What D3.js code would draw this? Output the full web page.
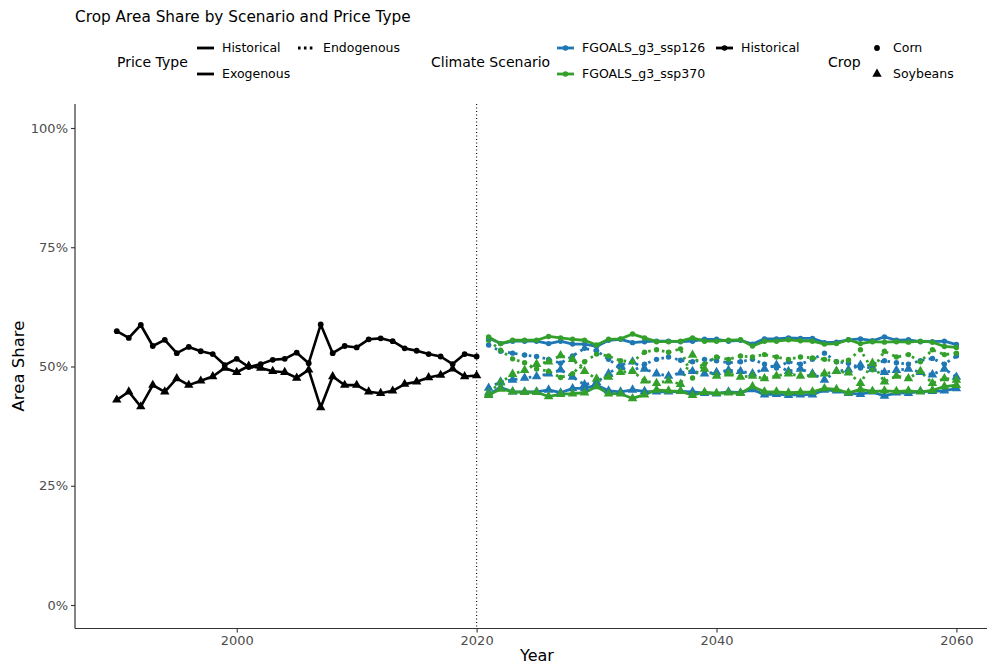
<!DOCTYPE html>
<html>
<head>
<meta charset="utf-8">
<script src="https://cdn.jsdelivr.net/npm/d3@7"></script>
<style>
  body { margin: 0; background: #fff; }
  svg { display: block; font-family: "DejaVu Sans", sans-serif; }
</style>
</head>
<body>
<svg id="chart" width="987" height="664"></svg>
<script>
// historical shares, 1990-2020
const histYears = d3.range(1990, 2021);
const histCorn = [0.574, 0.560, 0.587, 0.543, 0.556, 0.528, 0.541, 0.532, 0.526, 0.503, 0.516,
  0.499, 0.505, 0.514, 0.516, 0.529, 0.507, 0.588, 0.528, 0.543, 0.540,
  0.557, 0.559, 0.553, 0.538, 0.533, 0.526, 0.521, 0.505, 0.526, 0.521];
const histSoy = [0.430, 0.447, 0.416, 0.461, 0.447, 0.475, 0.461, 0.470, 0.479, 0.497, 0.488,
  0.501, 0.497, 0.490, 0.488, 0.476, 0.493, 0.414, 0.479, 0.461, 0.461,
  0.447, 0.444, 0.449, 0.463, 0.468, 0.477, 0.482, 0.495, 0.479, 0.481];

// projections, 2021-2060
const futYears = d3.range(2021, 2061);
const ssp126ExoCorn = [0.560, 0.548, 0.553, 0.553, 0.553, 0.548, 0.553, 0.547, 0.547, 0.542,
  0.555, 0.557, 0.550, 0.552, 0.553, 0.553, 0.552, 0.553, 0.557, 0.557,
  0.553, 0.555, 0.547, 0.558, 0.558, 0.560, 0.559, 0.559, 0.550, 0.551,
  0.556, 0.558, 0.554, 0.562, 0.555, 0.556, 0.552, 0.552, 0.553, 0.546];
const ssp126ExoSoy = [0.441, 0.456, 0.447, 0.447, 0.447, 0.451, 0.445, 0.454, 0.454, 0.461,
  0.449, 0.447, 0.451, 0.448, 0.447, 0.447, 0.448, 0.447, 0.444, 0.443,
  0.447, 0.445, 0.452, 0.441, 0.442, 0.440, 0.441, 0.441, 0.451, 0.449,
  0.444, 0.442, 0.447, 0.438, 0.445, 0.444, 0.448, 0.448, 0.449, 0.454];
const ssp370ExoCorn = [0.562, 0.548, 0.555, 0.555, 0.555, 0.563, 0.560, 0.557, 0.555, 0.545,
  0.557, 0.558, 0.568, 0.560, 0.552, 0.552, 0.553, 0.560, 0.553, 0.553,
  0.555, 0.556, 0.543, 0.553, 0.553, 0.556, 0.554, 0.553, 0.547, 0.548,
  0.556, 0.548, 0.552, 0.551, 0.552, 0.551, 0.553, 0.551, 0.542, 0.540];
const ssp370ExoSoy = [0.440, 0.453, 0.447, 0.446, 0.446, 0.437, 0.442, 0.443, 0.445, 0.458,
  0.443, 0.443, 0.433, 0.441, 0.451, 0.449, 0.448, 0.440, 0.446, 0.444,
  0.445, 0.444, 0.458, 0.447, 0.447, 0.445, 0.446, 0.447, 0.454, 0.452,
  0.445, 0.452, 0.448, 0.449, 0.448, 0.449, 0.447, 0.450, 0.458, 0.461];
const ssp126EndoCorn = [0.545, 0.532, 0.528, 0.524, 0.521, 0.515, 0.507, 0.522, 0.538, 0.533,
  0.515, 0.497, 0.490, 0.505, 0.515, 0.520, 0.513, 0.510, 0.515, 0.512,
  0.508, 0.510, 0.515, 0.505, 0.497, 0.510, 0.505, 0.515, 0.528, 0.510,
  0.507, 0.497, 0.505, 0.512, 0.508, 0.505, 0.512, 0.517, 0.505, 0.522];
const ssp126EndoSoy = [0.455, 0.468, 0.472, 0.476, 0.479, 0.485, 0.493, 0.478, 0.462, 0.467,
  0.485, 0.503, 0.510, 0.495, 0.485, 0.480, 0.487, 0.490, 0.485, 0.488,
  0.492, 0.490, 0.485, 0.495, 0.503, 0.490, 0.495, 0.485, 0.472, 0.490,
  0.493, 0.503, 0.495, 0.488, 0.492, 0.495, 0.488, 0.483, 0.495, 0.478];
const ssp370EndoCorn = [0.555, 0.534, 0.516, 0.508, 0.495, 0.490, 0.477, 0.485, 0.510, 0.526,
  0.522, 0.512, 0.510, 0.530, 0.535, 0.530, 0.537, 0.476, 0.505, 0.520,
  0.515, 0.522, 0.520, 0.525, 0.520, 0.515, 0.520, 0.518, 0.515, 0.510,
  0.513, 0.535, 0.493, 0.532, 0.520, 0.525, 0.510, 0.535, 0.525, 0.528];
const ssp370EndoSoy = [0.445, 0.466, 0.484, 0.492, 0.505, 0.510, 0.523, 0.515, 0.490, 0.474,
  0.478, 0.488, 0.490, 0.470, 0.465, 0.470, 0.463, 0.524, 0.495, 0.480,
  0.485, 0.478, 0.480, 0.475, 0.480, 0.485, 0.480, 0.482, 0.485, 0.490,
  0.487, 0.465, 0.507, 0.468, 0.480, 0.475, 0.490, 0.465, 0.475, 0.472];

const yTicks = [0, 0.25, 0.5, 0.75, 1];
const xTicks = [2000, 2020, 2040, 2060];
const scenarioColors = { 'FGOALS_g3_ssp126': '#1f78b4', 'FGOALS_g3_ssp370': '#33a02c', 'Historical': '#000000' };

// series list built from the arrays above
const series = [
  { scen: 'Historical', price: 'Historical', crop: 'Corn', years: histYears, vals: histCorn },
  { scen: 'Historical', price: 'Historical', crop: 'Soybeans', years: histYears, vals: histSoy },
  { scen: 'FGOALS_g3_ssp126', price: 'Endogenous', crop: 'Corn', years: futYears, vals: ssp126EndoCorn },
  { scen: 'FGOALS_g3_ssp126', price: 'Endogenous', crop: 'Soybeans', years: futYears, vals: ssp126EndoSoy },
  { scen: 'FGOALS_g3_ssp370', price: 'Endogenous', crop: 'Corn', years: futYears, vals: ssp370EndoCorn },
  { scen: 'FGOALS_g3_ssp370', price: 'Endogenous', crop: 'Soybeans', years: futYears, vals: ssp370EndoSoy },
  { scen: 'FGOALS_g3_ssp126', price: 'Exogenous', crop: 'Corn', years: futYears, vals: ssp126ExoCorn },
  { scen: 'FGOALS_g3_ssp126', price: 'Exogenous', crop: 'Soybeans', years: futYears, vals: ssp126ExoSoy },
  { scen: 'FGOALS_g3_ssp370', price: 'Exogenous', crop: 'Corn', years: futYears, vals: ssp370ExoCorn },
  { scen: 'FGOALS_g3_ssp370', price: 'Exogenous', crop: 'Soybeans', years: futYears, vals: ssp370ExoSoy },
];
series.forEach(s => { s.points = s.years.map((yr, i) => ({ year: yr, v: s.vals[i], s })); });

const svg = d3.select('#chart');
const x = d3.scaleLinear().domain([1990, 2060]).range([116.8, 956.4]);
const y = d3.scaleLinear().domain([0, 1]).range([605, 128]);
const panel = { left: 75, right: 999, top: 104, bottom: 628.5 };

// reference line at 2020
svg.append('line')
  .attr('x1', x(2020)).attr('x2', x(2020))
  .attr('y1', panel.top).attr('y2', panel.bottom)
  .attr('stroke', '#000').attr('stroke-width', 1.1)
  .attr('stroke-dasharray', '1,2.5');

const line = d3.line().x(d => x(d.year)).y(d => y(d.v));

svg.append('g').selectAll('path')
  .data(series)
  .join('path')
  .attr('d', s => line(s.points))
  .attr('fill', 'none')
  .attr('stroke', s => scenarioColors[s.scen])
  .attr('stroke-width', s => s.scen === 'Historical' ? 2.6 : 2.8)
  .attr('stroke-linejoin', 'round')
  .attr('stroke-dasharray', s => s.price === 'Endogenous' ? '2.6,4.4' : null);

const tri = d3.symbol().type(d3.symbolTriangle);
const pts = svg.append('g');
series.forEach(s => {
  const col = scenarioColors[s.scen];
  const big = s.scen === 'Historical';
  if (s.crop === 'Corn') {
    pts.selectAll(null).data(s.points).join('circle')
      .attr('cx', d => x(d.year)).attr('cy', d => y(d.v))
      .attr('r', big ? 2.9 : 2.7).attr('fill', col);
  } else {
    pts.selectAll(null).data(s.points).join('path')
      .attr('d', tri.size(big ? 38 : 40)())
      .attr('transform', d => `translate(${x(d.year)},${y(d.v)})`)
      .attr('fill', col);
  }
});

// axes
const axisCol = '#333';
const gx = svg.append('g').attr('transform', `translate(0,${panel.bottom})`)
  .call(d3.axisBottom(x).tickValues(xTicks).tickFormat(d3.format('d')).tickSize(4).tickPadding(3).tickSizeOuter(0));
const gy = svg.append('g').attr('transform', `translate(${panel.left},0)`)
  .call(d3.axisLeft(y).tickValues(yTicks).tickFormat(d3.format('.0%')).tickSize(4).tickPadding(3).tickSizeOuter(0));
[gx, gy].forEach(g => {
  g.attr('font-size', null).attr('font-family', null);
  g.select('.domain').remove();
  g.selectAll('.tick line').attr('stroke', axisCol).attr('stroke-width', 1.1);
  g.selectAll('.tick text').attr('fill', '#4d4d4d')
    .style('font-size', '13px').style('font-family', '"DejaVu Sans", sans-serif');
});
svg.append('line').attr('x1', panel.left).attr('x2', panel.right)
  .attr('y1', panel.bottom).attr('y2', panel.bottom)
  .attr('stroke', axisCol).attr('stroke-width', 1.2);
svg.append('line').attr('x1', panel.left).attr('x2', panel.left)
  .attr('y1', panel.top).attr('y2', panel.bottom)
  .attr('stroke', axisCol).attr('stroke-width', 1.2);

svg.append('text').attr('x', 537).attr('y', 661).attr('text-anchor', 'middle')
  .attr('font-size', 16).text('Year');
svg.append('text').attr('transform', 'translate(24,366) rotate(-90)')
  .attr('text-anchor', 'middle').attr('font-size', 16.5).text('Area Share');

// title
svg.append('text').attr('x', 75).attr('y', 22).attr('font-size', 15.3).text('Crop Area Share by Scenario and Price Type');

// legends
const leg = svg.append('g').attr('font-size', 12.5);
const row1 = 48, row2 = 74, mid = 62;
function legTitle(txt, lx) {
  leg.append('text').attr('x', lx).attr('y', mid).attr('dy', '0.35em')
    .attr('font-size', 14).text(txt);
}
function legLabel(txt, lx, ly) {
  leg.append('text').attr('x', lx).attr('y', ly).attr('dy', '0.35em').text(txt);
}
function keyLine(kx, ky, col, dotted, withPoint) {
  leg.append('line').attr('x1', kx).attr('x2', kx + 17).attr('y1', ky).attr('y2', ky)
    .attr('stroke', col).attr('stroke-width', 2.8)
    .attr('stroke-dasharray', dotted ? '2.6,3.3' : null);
  if (withPoint) leg.append('circle').attr('cx', kx + 8.5).attr('cy', ky).attr('r', 2.8).attr('fill', col);
}

legTitle('Price Type', 117);
keyLine(197, row1, '#000', false, false); legLabel('Historical', 222, row1);
keyLine(197, row2, '#000', false, false); legLabel('Exogenous', 222, row2);
keyLine(298, row1, '#000', true, false); legLabel('Endogenous', 323, row1);

legTitle('Climate Scenario', 431);
keyLine(557, row1, scenarioColors['FGOALS_g3_ssp126'], false, true); legLabel('FGOALS_g3_ssp126', 582, row1);
keyLine(557, row2, scenarioColors['FGOALS_g3_ssp370'], false, true); legLabel('FGOALS_g3_ssp370', 582, row2);
keyLine(716, row1, '#000', false, true); legLabel('Historical', 741, row1);

legTitle('Crop', 828);
leg.append('circle').attr('cx', 877).attr('cy', row1).attr('r', 2.9).attr('fill', '#000');
legLabel('Corn', 893, row1);
leg.append('path').attr('d', tri.size(38)()).attr('transform', `translate(877,${row2})`).attr('fill', '#000');
legLabel('Soybeans', 893, row2);
</script>
</body>
</html>
